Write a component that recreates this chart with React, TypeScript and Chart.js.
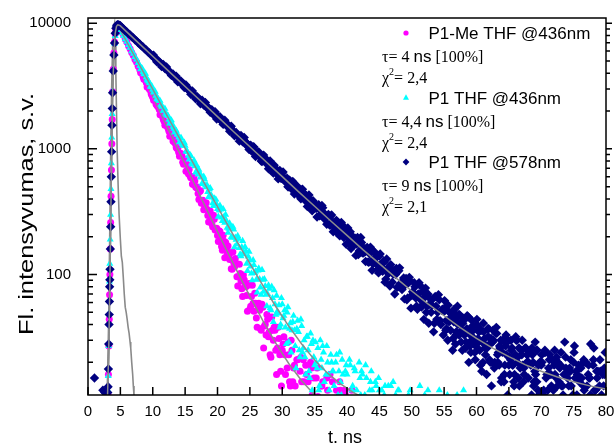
import { useEffect, useRef } from "react";
import { Chart, registerables } from "chart.js";

Chart.register(...registerables);

// ---- axes -------------------------------------------------------------
const X_MIN = 0;
const X_MAX = 80;
const X_TICK_STEP = 5;
const Y_MIN = 11;
const Y_MAX = 11000;
const yLabelTicks = [100, 1000, 10000];

const xTitle = "t. ns";
const yTitle = "Fl. intensyvumas, s.v.";

// ---- legend text -----------------------------------------------------------
const seriesNames = ["P1-Me THF @436nm", "P1 THF @436nm", "P1 THF @578nm"];
const tauValues = ["4", "4,4", "9"];
const chiValues = ["2,4", "2,4", "2,1"];
const shareText = "[100%]";

// ---- colours -----------------------------------------------------------
const MAGENTA = "#ff00ff";
const CYAN = "#00ffff";
const NAVY = "#000080";
const FIT_GREY = "#8c8c8c";
const IRF_GREY = "#8a8a8a";

const SANS = '"Liberation Sans", Arial, sans-serif';
const SERIF = '"Liberation Serif", "Times New Roman", serif';

// ---- counts per channel -----------------------------------------------------
// Each "decay" list holds counts sampled every CH_STEP ns from its start time;
// the further lists of a series are the channels in between.
const CH_STEP = 0.25;
const DECAY_START = 5;

// P1-Me THF @436nm
const magentaRiseT = [3.1, 3.15, 3.22, 3.28, 3.33, 3.38, 3.44, 3.5, 3.56, 3.62, 3.68, 3.74, 3.8, 3.9, 4.0, 4.1, 4.2, 4.3, 4.4, 4.5, 4.6, 4.7, 4.8, 4.9];
const magentaRiseV = [11, 16, 27, 44, 69, 100, 160, 260, 420, 680, 1100, 1710, 2850, 4300, 5800, 7100, 8200, 8900, 9200, 9350, 9380, 9330, 9250, 9170];
const magentaDecay = [
  9090, 8510, 8030, 7500, 7090, 6620, 6260, 5840, 5530, 5150, 4880, 4540,
  4270, 4060, 3770, 3580, 3370, 3120, 2970, 2750, 2580, 2470, 2280, 2180,
  2060, 1890, 1810, 1660, 1560, 1510, 1380, 1330, 1260, 1140, 1100, 1005,
  940, 898, 881, 753, 762, 759, 635, 611, 603, 520, 554, 490,
  441, 457, 370, 390, 356, 372, 295, 311, 290, 240, 276, 228,
  204, 223, 195, 156, 184, 181, 143, 141, 149, 110, 124, 134,
  96, 96, 102, 77, 99, 81, 68, 82, 53, 67, 59, 71,
  45, 56, 52, 36, 55, 39, 33, 44, 35, 22, 36, 38,
  25, 26, 31, 17, 25, 32, 16, 18, 23, 13, 25, 18,
  13, 21, 9, 17, 14, 21, 9, 16, 14, 7, 18, 10,
  8, 15, 10.7, 4, 13, 14, 7, 9, 12, 4, 10, 14,
  5, 7, 10, 4, 12, 8, 5, 11, 3, 9, 7, 12,
];
const MAGENTA_MID_START = 8.125;
const magentaMid = [
  4030, 3995, 3580, 3572, 3103, 3044, 2951, 2656, 2435, 2489, 2220, 2149,
  1866, 1948, 1720, 1543, 1572, 1452, 1258, 1340, 1157, 1210, 1026, 1008,
  872, 917, 781, 832, 663, 684, 686, 590, 525, 589, 498, 498,
  395, 465, 385, 327, 366, 331, 262, 321, 254, 297, 226, 234,
  183, 220, 167, 205, 136, 157, 169, 132, 111, 151, 115, 123,
  81, 121, 89, 67, 91, 80, 51, 85, 56, 82, 51, 59,
  38, 59, 37, 58, 26, 40, 48, 32, 23, 46, 30, 36,
  16, 38, 23, 13, 28, 23, 9, 29, 14, 30, 14, 19,
  8, 21, 9, 22, 5, 14, 19, 10, 6, 20, 11, 15,
  3, 18, 9, 3, 13, 10, 2, 15, 6, 16, 6, 10,
  2, 12, 4, 14, 1, 8, 12, 6,
];

// P1 THF @436nm
const cyanRiseT = [3.08, 3.13, 3.2, 3.26, 3.32, 3.37, 3.43, 3.49, 3.55, 3.61, 3.67, 3.73, 3.79, 3.9, 4.0, 4.1, 4.2, 4.3, 4.4, 4.5, 4.6, 4.7, 4.8, 4.9];
const cyanRiseV = [12, 15.6, 27, 49, 88, 122, 190, 300, 480, 770, 1230, 1900, 2900, 4300, 5700, 6900, 7900, 8500, 8850, 9000, 9050, 9020, 8960, 8880];
const cyanDecay = [
  8830, 8330, 7930, 7470, 7110, 6700, 6390, 6000, 5730, 5390, 5140, 4830,
  4570, 4380, 4100, 3930, 3720, 3480, 3340, 3120, 2960, 2850, 2650, 2550,
  2420, 2250, 2170, 2020, 1910, 1850, 1710, 1660, 1580, 1450, 1420, 1300,
  1240, 1210, 1100, 1080, 1061, 963, 883, 897, 767, 786, 729, 744,
  626, 643, 605, 527, 571, 496, 454, 478, 431, 369, 404, 395,
  333, 324, 330, 267, 288, 300, 236, 232, 238, 196, 228, 197,
  174, 193, 145, 165, 150, 166, 122, 139, 130, 102, 130, 103,
  91, 108, 92, 69, 91, 92, 69, 70, 77, 52, 65, 75,
  48, 51, 57, 40, 58, 47, 38, 50, 29, 41, 36, 47,
  27, 37, 35, 22, 39, 26, 22, 32, 25, 15, 28, 30,
  19, 20, 26, 13, 21, 27, 14, 16, 20, 12, 23, 17,
  13, 20, 8, 17, 14, 21, 9, 17, 16, 8, 19, 12,
  9, 17, 12, 5, 15, 17, 9, 11, 15, 6, 12, 17,
  7, 9, 13, 6, 12, 9, 7, 11, 5, 10, 8, 13,
  6, 9, 11, 5, 12, 8, 6, 10, 9, 4, 11, 12,
  7, 8, 10, 5, 9, 13, 6, 7, 11, 5, 12, 8,
  6, 10, 4, 9, 8, 12, 6, 10, 9, 5, 11, 7,
  6, 10, 8, 4, 11, 9, 7, 8, 12,
];
const CYAN_MID_START = 8.125;
const cyanMid = [
  4299, 4361, 3944, 3963, 3547, 3440, 3117, 3138, 2817, 2856, 2479, 2464,
  2416, 2183, 2013, 2091, 1870, 1832, 1592, 1690, 1499, 1352, 1397, 1299,
  1129, 1221, 1059, 1122, 955, 947, 824, 877, 751, 810, 649, 675,
  683, 591, 532, 601, 511, 516, 415, 488, 410, 352, 395, 362,
  289, 354, 284, 332, 259, 268, 215, 255, 199, 240, 165, 189,
  203, 163, 140, 185, 145, 154, 107, 152, 116, 90, 119, 106,
  72, 112, 79, 109, 73, 81, 56, 82, 54, 80, 42, 58,
  68, 49, 38, 65, 45, 52, 28, 55, 37, 24, 42, 36,
  18, 43, 25, 44, 24, 30, 16, 32, 17, 34, 12, 22,
  29, 18, 12, 30, 18, 24, 8, 27, 16, 8, 20, 17,
  5, 23, 11, 24, 11, 16, 6, 19, 8, 21, 4, 13,
  18, 10, 6, 20, 11, 16, 4, 19, 10, 4, 14, 12,
  2, 14, 7, 15, 7, 12, 4, 13, 5, 13, 2, 10,
  14, 8, 4, 12,
];

// P1 THF @578nm
const navyRiseT = [1.0, 2.3, 2.6, 3.05, 3.1, 3.15, 3.2, 3.25, 3.28, 3.31, 3.34, 3.37, 3.4, 3.45, 3.5, 3.55, 3.6, 3.65, 3.7, 3.75, 3.8, 3.9, 4.0, 4.1, 4.2, 4.3, 4.4, 4.5, 4.6, 4.7, 4.8, 4.9];
const navyRiseV = [15, 12, 11.5, 11.5, 12.8, 17.7, 28, 40, 48, 61, 80, 91, 110, 160, 240, 380, 600, 950, 1540, 2100, 2800, 4170, 5590, 6950, 8330, 9100, 9500, 9700, 9750, 9700, 9650, 9580];
const navyDecay = [
  9540, 9230, 9020, 8720, 8530, 8250, 8080, 7800, 7640, 7390, 7230, 6980,
  6840, 6600, 6470, 6250, 6120, 5910, 5790, 5590, 5480, 5290, 5190, 5000,
  4860, 4780, 4600, 4520, 4390, 4230, 4160, 4000, 3890, 3830, 3680, 3620,
  3530, 3390, 3330, 3200, 3120, 3070, 2940, 2910, 2830, 2710, 2670, 2560,
  2490, 2460, 2360, 2330, 2270, 2170, 2150, 2050, 1990, 1980, 1880, 1870,
  1830, 1740, 1720, 1640, 1600, 1590, 1510, 1500, 1470, 1390, 1380, 1310,
  1280, 1280, 1210, 1200, 1180, 1110, 1110, 1050, 1058, 966, 1040, 948,
  901, 942, 884, 801, 860, 854, 769, 762, 778, 685, 719, 741,
  642, 639, 652, 585, 640, 590, 550, 584, 500, 535, 508, 538,
  457, 487, 470, 415, 470, 415, 390, 423, 391, 342, 385, 386,
  336, 336, 351, 293, 320, 340, 278, 281, 294, 252, 293, 263,
  240, 266, 214, 241, 226, 249, 197, 221, 214, 179, 219, 185,
  170, 195, 175, 144, 178, 180, 148, 151, 162, 126, 146, 160,
  122, 125, 136, 110, 140, 121, 106, 126, 92, 112, 103, 120,
  87, 105, 100, 79, 107, 85, 76, 94, 83, 63, 86, 89,
  68, 71, 80, 56, 70, 82, 55, 58, 66, 50, 70, 58,
  50, 64, 41, 56, 50, 63, 40, 53, 51, 36, 57, 42,
  36, 50, 42, 28, 45, 48, 34, 36, 43, 26, 37, 46,
  27, 30, 36, 24, 40, 31, 25, 36, 20, 31, 27, 37,
  21, 31, 29, 18, 34, 23, 19, 30, 24, 14, 27, 29,
  19, 21, 26, 14, 23, 30, 15, 18, 23, 14, 26, 20,
  15, 24, 11, 20, 17, 25, 12, 20, 19, 11, 24, 15,
  12, 21, 16, 8, 19, 21, 13, 14, 19, 9, 16, 22,
  10, 13, 17, 9, 20, 15, 11, 19, 7, 15, 13, 20,
  9, 16, 15, 8, 19, 12, 9, 17, 13, 6, 16, 18,
  10,
];
const NAVY_MID_START = 10.125;
const navyMid = [
  5554, 5210, 4940, 5026, 4841, 4511, 4688, 4362, 4485, 4138, 4114, 3844,
  3948, 3665, 3779, 3410, 3457, 3461, 3237, 3080, 3227, 2998, 2993, 2724,
  2891, 2674, 2508, 2600, 2494, 2284, 2438, 2229, 2342, 2118, 2124, 1953,
  2049, 1867, 1972, 1726, 1780, 1803, 1660, 1566, 1690, 1542, 1555, 1379,
  1514, 1373, 1270, 1350, 1289, 1152, 1276, 1139, 1232, 1083, 1099, 989,
  1070, 950, 1035, 870, 918, 944, 851, 794, 892, 794, 812, 695,
  801, 707, 641, 706, 669, 577, 674, 582, 656, 555, 573, 499,
  564, 483, 551, 437, 476, 501, 438, 401, 477, 412, 429, 348,
  429, 366, 322, 373, 350, 287, 360, 298, 355, 285, 302, 251,
  301, 246, 298, 219, 250, 270, 228, 203, 260, 215, 230, 174,
  235, 191, 161, 201, 186, 142, 197, 154, 197, 149, 162, 127,
  164, 125, 165, 108, 133, 149, 120, 103, 146, 115, 127, 87,
  133, 102, 81, 111, 101, 70, 112, 80, 113, 78, 89, 64,
  93, 65, 95, 54, 73, 86, 65, 53, 86, 63, 73, 44,
  78, 56, 41, 64, 57, 35, 67, 44, 69, 43, 52, 33,
];
const NAVY_TAIL_START = 55.125;
const navyTail = [
  52, 37, 57, 43, 46, 31, 49, 35, 40, 48, 29, 41,
  33, 29, 46, 36, 24, 39, 31, 27, 39, 35, 19, 29,
  35, 23, 26, 37, 20, 29, 30, 19, 34, 24, 26, 15,
  30, 19, 23, 30, 16, 25, 19, 16, 30, 22, 13, 25,
  19, 16, 26, 23, 10, 19, 23, 14, 16, 25, 11, 20,
  20, 12, 24, 16, 18, 9, 21, 12, 16, 22, 10, 18,
  13, 11, 29, 16, 8, 18, 13, 11, 27, 17, 7, 14,
  18, 10, 12, 20, 8, 15, 28, 9, 26, 12, 15, 6,
  17, 10, 13, 24,
];
const NAVY_TAIL2_START = 55.0625;
const navyTail2 = [
  62, 43, 30, 50, 45, 25, 53, 33, 56, 33, 41, 25,
  45, 26, 47, 20, 33, 43, 29, 21, 44, 29, 36, 17,
  41, 26, 16, 32, 28, 13, 36, 20, 38, 20, 27, 14,
  30, 16, 33, 11, 22, 30, 19, 13, 32, 20, 26, 10,
  30, 18, 10, 23, 20, 7, 26, 13, 29, 14, 19, 9,
  23, 11, 25, 6, 16, 23, 13, 9, 25, 15, 20, 6,
  24, 13, 6, 18, 15, 4, 21, 10, 24, 10, 16, 6,
  19, 8, 21, 4, 13, 19, 11, 6, 21, 12, 17, 4,
  21, 11, 5, 16,
];

// ---- fitted curves ----------------------------------------------------------
const magentaFitT = [3.0, 3.2, 3.4, 3.6, 3.8, 4.0, 4.2, 4.4, 4.6, 4.8, 5.0, 7, 9, 11, 13, 15, 17, 19, 21, 23, 25, 27, 29, 31, 33, 35, 37, 39];
const magentaFitV = [8, 22, 110, 600, 2800, 5700, 8100, 9150, 9350, 9250, 9076, 5507, 3343, 2030, 1233, 751, 458, 280, 172, 107, 67, 43, 28.5, 19.6, 14.3, 11, 9, 7.8];

const cyanFitT = [3.0, 3.2, 3.4, 3.6, 3.8, 4.0, 4.2, 4.4, 4.6, 4.8, 5.0, 7, 9, 11, 13, 15, 17, 19, 21, 23, 25, 27, 29, 31, 33, 35, 37, 39, 41, 43, 45];
const cyanFitV = [9, 24, 105, 580, 2700, 5500, 7800, 8750, 9000, 8950, 8815, 5708, 3699, 2397, 1555, 1009, 656, 428, 280, 184, 122, 82, 55.7, 38.9, 28, 20.9, 16.4, 13.5, 11.5, 10.2, 9.3];

const navyFitT = [3.0, 3.2, 3.4, 3.6, 3.8, 4.0, 4.2, 4.4, 4.6, 4.8, 5.0, 7.5, 10, 12.5, 15, 17.5, 20, 22.5, 25, 27.5, 30, 32.5, 35, 37.5, 40, 42.5, 45, 47.5, 50, 52.5, 55, 57.5, 60, 62.5, 65, 67.5, 70, 72.5, 75, 77.5, 80];
const navyFitV = [10, 25, 100, 600, 2800, 5600, 8300, 9450, 9700, 9650, 9510, 7206, 5461, 4139, 3137, 2379, 1805, 1370, 1039, 790, 601, 457, 349, 267, 205, 157, 122, 94.5, 74, 58.5, 47, 37.8, 31, 26, 22.2, 19.2, 17, 15.3, 14, 13, 12.3];

// instrument response
const irfT = [2.8, 3.0, 3.2, 3.35, 3.5, 3.65, 3.8, 3.95, 4.1, 4.2, 4.3, 4.4, 4.5, 4.65, 4.8, 5.0, 5.15, 5.3, 5.45, 5.6, 5.75, 5.9, 6.05, 6.2, 6.35, 6.5, 6.6, 6.75, 6.9, 7.0, 7.1, 7.25];
const irfV = [9, 14, 45, 200, 900, 3000, 6500, 9200, 10000, 7500, 4000, 2000, 1000, 520, 300, 190, 140, 125, 95, 70, 55, 50, 44, 38, 34, 29, 26, 20, 16, 13, 11, 9];

// ---- helpers ----------------------------------------------------------------
type Pt = { x: number; y: number };
const pairs = (t: number[], v: number[]): Pt[] => t.map((x, i) => ({ x, y: v[i] }));
const sampled = (start: number, v: number[]): Pt[] =>
  v.map((y, i) => ({ x: start + i * CH_STEP, y }));

type Seg = [string, string, number?];
function drawSegments(ctx: CanvasRenderingContext2D, x: number, y: number, segs: Seg[]) {
  let cx = x;
  for (const [text, font, dy] of segs) {
    ctx.font = font;
    ctx.fillText(text, cx, y + (dy || 0));
    cx += ctx.measureText(text).width;
  }
}

function drawMarker(ctx: CanvasRenderingContext2D, shape: string, x: number, y: number, color: string) {
  ctx.save();
  ctx.fillStyle = color;
  ctx.beginPath();
  if (shape === "circle") {
    ctx.arc(x, y, 2.6, 0, Math.PI * 2);
  } else if (shape === "triangle") {
    ctx.moveTo(x, y - 3.2);
    ctx.lineTo(x - 3, y + 2.2);
    ctx.lineTo(x + 3, y + 2.2);
    ctx.closePath();
  } else {
    ctx.moveTo(x, y - 3.4);
    ctx.lineTo(x + 3.4, y);
    ctx.lineTo(x, y + 3.4);
    ctx.lineTo(x - 3.4, y);
    ctx.closePath();
  }
  ctx.fill();
  ctx.restore();
}

const decoration = {
  id: "decoration",
  afterDraw(chart: any) {
    const { ctx, chartArea } = chart;
    const { left, right, top, bottom } = chartArea;
    const xs = chart.scales.x;
    const ys = chart.scales.y;
    ctx.save();
    ctx.strokeStyle = "#000";
    ctx.fillStyle = "#000";
    ctx.lineWidth = 1.5;

    // frame
    ctx.strokeRect(left, top, right - left, bottom - top);

    // x ticks (inward)
    ctx.beginPath();
    for (let v = X_MIN; v <= X_MAX; v += X_TICK_STEP) {
      const px = xs.getPixelForValue(v);
      ctx.moveTo(px, bottom);
      ctx.lineTo(px, bottom - 8);
    }
    ctx.stroke();

    // y ticks: decades and log minors, inward on the left, outward on the right
    ctx.beginPath();
    for (let dec = 10; dec <= 10000; dec *= 10) {
      for (let m = 1; m <= 9; m++) {
        const v = dec * m;
        if (v < Y_MIN || v > Y_MAX) continue;
        const py = ys.getPixelForValue(v);
        const major = m === 1;
        ctx.moveTo(left, py);
        ctx.lineTo(left + (major ? 9 : 5), py);
        ctx.moveTo(right, py);
        ctx.lineTo(right + (major ? 6 : 4), py);
      }
    }
    ctx.stroke();

    // axis titles
    ctx.textAlign = "left";
    ctx.textBaseline = "alphabetic";
    ctx.font = `18px ${SANS}`;
    ctx.fillText(xTitle, 328, 443);
    ctx.save();
    ctx.translate(33, 335);
    ctx.rotate(-Math.PI / 2);
    ctx.font = `20px ${SANS}`;
    const w = ctx.measureText(yTitle).width;
    ctx.scale(242 / w, 1);
    ctx.fillText(yTitle, 0, 0);
    ctx.restore();

    // legend
    const shapes = ["circle", "triangle", "diamond"];
    const colors = [MAGENTA, CYAN, NAVY];
    const serif = `16px ${SERIF}`;
    const sans = `17px ${SANS}`;
    const small = `10px ${SERIF}`;
    for (let i = 0; i < seriesNames.length; i++) {
      const base = 39 + i * 64.5;
      drawMarker(ctx, shapes[i], 406, base - 6, colors[i]);
      ctx.fillStyle = "#000";
      ctx.font = sans;
      ctx.fillText(seriesNames[i], 428.5, base);
      drawSegments(ctx, 382, base + 23, [
        ["\u03c4= " + tauValues[i] + " ", serif],
        ["ns", sans],
        [" " + shareText, serif],
      ]);
      drawSegments(ctx, 382, base + 44, [
        ["\u03c7", serif],
        ["2", small, -8],
        ["= " + chiValues[i], serif],
      ]);
    }
    ctx.restore();
  },
};

export default function App() {
  const ref = useRef<HTMLCanvasElement | null>(null);

  useEffect(() => {
    if (!ref.current) return;
    const fitLine = (data: Pt[], color: string, width: number) => ({
      data,
      showLine: true,
      borderColor: color,
      backgroundColor: color,
      borderWidth: width,
      pointRadius: 0,
      fill: false,
      tension: 0,
      clip: 0,
    });
    const points = (data: Pt[], color: string, style: string, radius: number, label: string) => ({
      label,
      data,
      showLine: false,
      pointStyle: style,
      pointRadius: radius,
      pointBorderWidth: 0,
      backgroundColor: color,
      borderColor: color,
      pointBackgroundColor: color,
      clip: 0,
    });

    const chart = new Chart(ref.current, {
      type: "scatter",
      data: {
        datasets: [
          fitLine(pairs(navyFitT, navyFitV), FIT_GREY, 1.5),
          points(
            [
              ...pairs(navyRiseT, navyRiseV),
              ...sampled(DECAY_START, navyDecay),
              ...sampled(NAVY_MID_START, navyMid),
              ...sampled(NAVY_TAIL_START, navyTail),
              ...sampled(NAVY_TAIL2_START, navyTail2),
            ],
            NAVY,
            "rectRot",
            4.7,
            seriesNames[2]
          ),
          fitLine(pairs(cyanFitT, cyanFitV), FIT_GREY, 1.5),
          points(
            [
              ...pairs(cyanRiseT, cyanRiseV),
              ...sampled(DECAY_START, cyanDecay),
              ...sampled(CYAN_MID_START, cyanMid),
            ],
            CYAN,
            "triangle",
            4.1,
            seriesNames[1]
          ),
          fitLine(pairs(magentaFitT, magentaFitV), FIT_GREY, 1.5),
          points(
            [
              ...pairs(magentaRiseT, magentaRiseV),
              ...sampled(DECAY_START, magentaDecay),
              ...sampled(MAGENTA_MID_START, magentaMid),
            ],
            MAGENTA,
            "circle",
            3.5,
            seriesNames[0]
          ),
          fitLine(pairs(irfT, irfV), IRF_GREY, 1.6),
        ] as any,
      },
      options: {
        responsive: false,
        animation: false,
        devicePixelRatio: 1,
        events: [],
        layout: { padding: { left: 0, top: 15, right: 10, bottom: 0 } },
        plugins: { legend: { display: false }, tooltip: { enabled: false } },
        scales: {
          x: {
            type: "linear",
            min: X_MIN,
            max: X_MAX,
            afterFit: (s: any) => {
              s.height = 50;
            },
            grid: { display: false },
            border: { display: false },
            ticks: {
              stepSize: X_TICK_STEP,
              autoSkip: false,
              maxRotation: 0,
              padding: 0,
              color: "#000",
              font: { family: SANS, size: 15 },
            },
          },
          y: {
            type: "logarithmic",
            min: Y_MIN,
            max: Y_MAX,
            afterFit: (s: any) => {
              s.width = 88;
            },
            afterBuildTicks: (s: any) => {
              s.ticks = yLabelTicks.map((value) => ({ value }));
            },
            grid: { display: false },
            border: { display: false },
            ticks: {
              padding: 9,
              color: "#000",
              font: { family: SANS, size: 15 },
              callback: (v: any) => String(v),
            },
          },
        },
      } as any,
      plugins: [decoration],
    });
    return () => chart.destroy();
  }, []);

  return (
    <div style={{ position: "fixed", left: 0, top: 0, width: 616, height: 445, background: "#fff" }}>
      <canvas ref={ref} width={616} height={445} style={{ display: "block" }} />
    </div>
  );
}
